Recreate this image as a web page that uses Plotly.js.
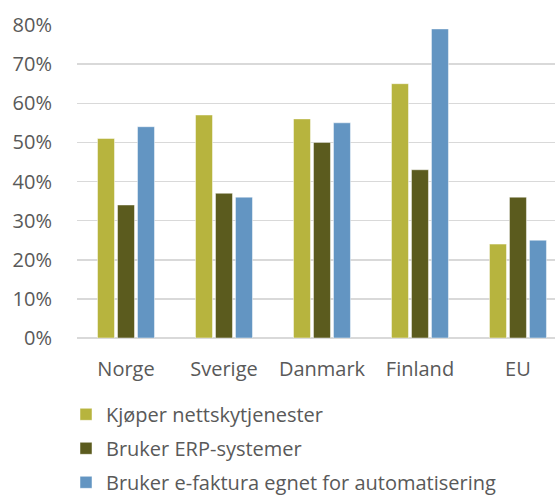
<!DOCTYPE html>
<html lang="no">
<head>
    <meta charset="UTF-8">
    <title>Andel virksomheter</title>
    <script src="https://cdn.plot.ly/plotly-3.0.1.min.js"></script>
    <style>
        html, body { margin: 0; padding: 0; background: #fff; }
        #chart { width: 555px; height: 496px; }
    </style>
</head>
<body>
    <div id="chart"></div>
    <script>
        // land / region
        const land = ['Norge', 'Sverige', 'Danmark', 'Finland', 'EU'];

        // andeler lest av figuren
        const skytjenester = [0.51, 0.57, 0.56, 0.65, 0.24];
        const erpSystemer = [0.34, 0.37, 0.50, 0.43, 0.36];
        const eFaktura = [0.54, 0.36, 0.55, 0.79, 0.25];

        const serieNavn = ['Kjøper nettskytjenester', 'Bruker ERP-systemer', 'Bruker e-faktura egnet for automatisering'];
        const farger = ['#b7b43e', '#5b5b1e', '#6395c2'];

        const data = [skytjenester, erpSystemer, eFaktura].map((verdier, i) => ({
            x: land,
            y: verdier,
            type: 'bar',
            name: serieNavn[i],
            legendgroup: 'g' + i,
            marker: { color: farger[i], line: { color: 'rgba(255,255,255,0.6)', width: 0.8 } },
            hoverinfo: 'y+name'
        }));

        const fontFamily = '"Open Sans", "DejaVu Sans", sans-serif';

        const layout = {
            width: 555,
            height: 496,
            margin: { l: 77, r: 0, t: 25, b: 158 },
            paper_bgcolor: '#fff',
            plot_bgcolor: '#fff',
            font: { family: fontFamily, size: 20, color: '#595959' },
            barmode: 'group',
            bargap: 0.388,
            bargroupgap: 0.15,
            xaxis: {
                range: [-0.5, 4.378],
                showgrid: false,
                showline: false,
                zeroline: false,
                ticks: 'outside',
                ticklen: 13,
                tickcolor: 'rgba(0,0,0,0)',
                tickfont: { size: 20, color: '#595959' }
            },
            yaxis: {
                range: [0, 0.8],
                dtick: 0.1,
                tickformat: '.0%',
                gridcolor: '#d9d9d9',
                gridwidth: 1.5,
                zeroline: true,
                zerolinecolor: '#d9d9d9',
                zerolinewidth: 1.5,
                showline: false,
                ticks: 'outside',
                ticklen: 20,
                tickcolor: 'rgba(0,0,0,0)',
                tickfont: { size: 20, color: '#595959' }
            },
            showlegend: true,
            legend: {
                orientation: 'v',
                traceorder: 'grouped',
                xref: 'paper',
                yref: 'container',
                x: -0.023,
                xanchor: 'left',
                y: 0.204,
                yanchor: 'top',
                font: { size: 20, color: '#595959' },
                itemwidth: 30,
                tracegroupgap: 5
            }
        };

        Plotly.newPlot('chart', data, layout, { displayModeBar: false, staticPlot: true });
    </script>
</body>
</html>
